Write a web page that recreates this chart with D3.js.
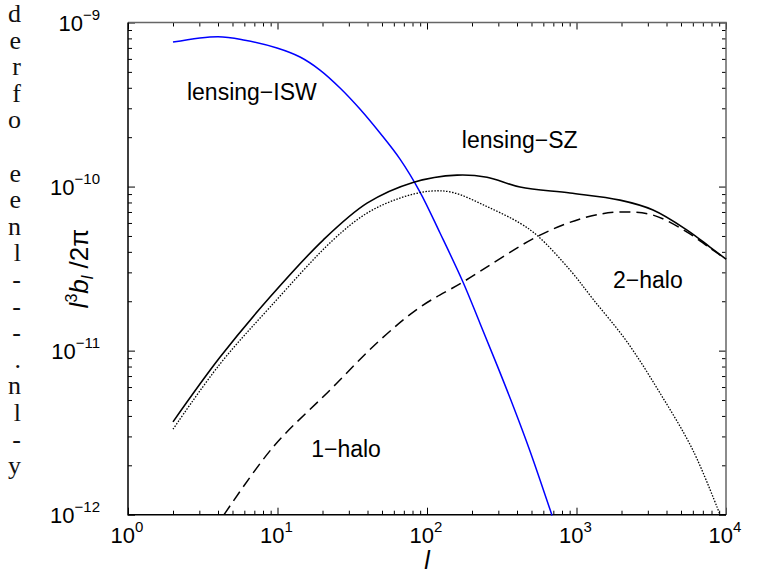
<!DOCTYPE html>
<html>
<head>
<meta charset="utf-8">
<script src="https://cdn.jsdelivr.net/npm/d3@7"></script>
<style>
  body { margin: 0; background: #fff; }
  svg { display: block; }
</style>
</head>
<body>
<script>
const width = 761;
const height = 573;

// tick labels
const xMajor = [1, 10, 100, 1000, 10000];
const xExponents = ["0", "1", "2", "3", "4"];
const yMajor = [1e-12, 1e-11, 1e-10, 1e-9];
const yExponents = ["\u221212", "\u221211", "\u221210", "\u22129"];

// series, [l, l^3 b_l / 2pi]
const lensingISW = [
  [2, 7.6e-10], [4, 8.2e-10], [6.06, 7.8e-10], [9.92, 6.99e-10], [14.15, 6.16e-10],
  [19.24, 5.13e-10], [26.2, 3.99e-10], [35.6, 2.97e-10], [48.5, 2.12e-10], [66, 1.47e-10],
  [89.8, 9.26e-11], [122.2, 5.21e-11], [174, 2.62e-11], [226, 1.47e-11], [294, 8.16e-12],
  [382, 4.46e-12], [489, 2.44e-12], [686, 9.9e-13]
];
const lensingSZ = [
  [2, 3.68e-12], [4.12, 9.1e-12], [8.91, 2.12e-11], [20.2, 4.72e-11], [39.7, 7.92e-11],
  [80.6, 1.06e-10], [159, 1.175e-10], [252, 1.14e-10], [419, 9.93e-11], [905, 9.13e-11],
  [1954, 8.27e-11], [3250, 7.2e-11], [5490, 5.43e-11], [7810, 4.28e-11], [10000, 3.61e-11]
];
const oneHalo = [
  [2, 3.32e-12], [4.12, 8.28e-12], [8.91, 1.84e-11], [23.5, 4.72e-11], [39.7, 6.89e-11],
  [66, 8.51e-11], [105, 9.38e-11], [149, 9.2e-11], [252, 7.55e-11], [419, 5.98e-11],
  [552, 4.99e-11], [905, 3.1e-11], [1290, 2.06e-11], [2180, 1.13e-11], [3620, 5.51e-12],
  [6010, 2.47e-12], [9120, 1.0e-12]
];
const twoHalo = [
  [4.39, 1e-12], [9.33, 2.58e-12], [22.4, 5.74e-12], [48.5, 1.16e-11], [89.8, 1.84e-11],
  [174, 2.62e-11], [570, 5.06e-11], [1175, 6.52e-11], [1954, 7.0e-11], [3250, 6.7e-11],
  [5490, 5.28e-11], [7810, 4.22e-11], [10000, 3.61e-11]
];

const labels = [
  {text: "lensing\u2212ISW", l: 2.48, v: 3.36e-10},
  {text: "lensing\u2212SZ", l: 171, v: 1.72e-10},
  {text: "2\u2212halo", l: 1754, v: 2.40e-11},
  {text: "1\u2212halo", l: 16.8, v: 2.24e-12}
];

// bits of the paper's text cut off at the left edge
const sideLetters = ["d", "e", "r", "f", "o", "", "e", "e", "n", "l", "-", "-", "-", ".", "n", "l", "-", "y"];

const sans = "'Liberation Sans', Arial, Helvetica, sans-serif";

const svg = d3.select("body").append("svg")
  .attr("width", width)
  .attr("height", height);

const x = d3.scaleLog().domain([1, 1e4]).range([128, 726]);
const y = d3.scaleLog().domain([1e-12, 1e-9]).range([514.7, 22.5]);
const [x0, x1] = x.range();
const [y0, y1] = y.range();

svg.append("g")
  .attr("font-family", "'Liberation Serif', 'Times New Roman', serif")
  .attr("font-size", 26)
  .attr("fill", "#111")
  .selectAll("text")
  .data(sideLetters)
  .join("text")
  .attr("x", 21)
  .attr("y", (d, i) => 22 + i * 26.6)
  .attr("text-anchor", "end")
  .text(d => d);

const xMinor = x.ticks().filter(t => !xMajor.includes(t));
const yMinor = y.ticks().filter(t => !yMajor.some(m => Math.abs(m - t) / m < 1e-6));

function tidy(g) {
  g.select(".domain").remove();
  g.selectAll(".tick line").attr("stroke", "#000").attr("stroke-width", 1);
}

// ticks on all four sides, pointing inwards
const axes = [
  [d3.axisBottom(x), `translate(0,${y0})`, xMajor, xMinor],
  [d3.axisTop(x), `translate(0,${y1})`, xMajor, xMinor],
  [d3.axisLeft(y), `translate(${x0},0)`, yMajor, yMinor],
  [d3.axisRight(y), `translate(${x1},0)`, yMajor, yMinor]
];
axes.forEach(([axis, tr, major, minor]) => {
  svg.append("g").attr("transform", tr)
    .call(axis.tickValues(minor).tickSize(-4).tickFormat(""))
    .call(tidy);
  svg.append("g").attr("transform", tr)
    .call(axis.tickValues(major).tickSize(-7).tickFormat(""))
    .call(tidy);
});

// frame
svg.append("path")
  .attr("d", `M${x0},${y1}H${x1}V${y0}`)
  .attr("fill", "none").attr("stroke", "#666").attr("stroke-width", 1.5);
svg.append("path")
  .attr("d", `M${x0},${y1}V${y0}H${x1}`)
  .attr("fill", "none").attr("stroke", "#000").attr("stroke-width", 1.5);

// tick labels
const xt = svg.append("g").attr("font-family", sans).attr("fill", "#000")
  .selectAll("text").data(xMajor).join("text")
  .attr("x", d => x(d) - 1)
  .attr("y", 543)
  .attr("text-anchor", "middle")
  .attr("font-size", 22);
xt.append("tspan").text("10");
xt.append("tspan").attr("dy", -11).attr("font-size", 15).text((d, i) => xExponents[i]);

const yt = svg.append("g").attr("font-family", sans).attr("fill", "#000")
  .selectAll("text").data(yMajor).join("text")
  .attr("x", 100)
  .attr("y", d => y(d) + 8)
  .attr("text-anchor", "end")
  .attr("font-size", 22);
yt.append("tspan").text("10");
yt.append("tspan").attr("dy", -11).attr("font-size", 15).text((d, i) => yExponents[i]);

// axis titles
svg.append("text")
  .attr("x", (x0 + x1) / 2)
  .attr("y", 569)
  .attr("text-anchor", "middle")
  .attr("font-family", sans)
  .attr("font-style", "italic")
  .attr("font-size", 25)
  .text("l");

const yTitle = svg.append("text")
  .attr("transform", `translate(88,${(y0 + y1) / 2}) rotate(-90)`)
  .attr("text-anchor", "middle")
  .attr("font-family", sans)
  .attr("font-size", 26);
yTitle.append("tspan").attr("font-style", "italic").text("l");
yTitle.append("tspan").attr("dy", -11).attr("font-size", 16).text("3");
yTitle.append("tspan").attr("dy", 11).attr("font-style", "italic").text("b");
yTitle.append("tspan").attr("dy", 5).attr("font-size", 16).attr("font-style", "italic").text("l");
yTitle.append("tspan").attr("dy", -5).text(" /2\u03c0");

// curves
const line = d3.line()
  .x(d => x(d[0]))
  .y(d => y(d[1]))
  .curve(d3.curveCatmullRom.alpha(0.5));

const plot = svg.append("g");
plot.append("path").datum(lensingISW)
  .attr("d", line).attr("fill", "none")
  .attr("stroke", "#0000ff").attr("stroke-width", 1.5);
plot.append("path").datum(lensingSZ)
  .attr("d", line).attr("fill", "none")
  .attr("stroke", "#000").attr("stroke-width", 1.6);
plot.append("path").datum(oneHalo)
  .attr("d", line).attr("fill", "none")
  .attr("stroke", "#000").attr("stroke-width", 1.3)
  .attr("stroke-dasharray", "1.5,1.5");
plot.append("path").datum(twoHalo)
  .attr("d", line).attr("fill", "none")
  .attr("stroke", "#000").attr("stroke-width", 1.5)
  .attr("stroke-dasharray", "11,6");

// curve names
svg.append("g")
  .attr("font-family", sans)
  .attr("font-size", 23)
  .selectAll("text").data(labels).join("text")
  .attr("x", d => x(d.l))
  .attr("y", d => y(d.v))
  .text(d => d.text);
</script>
</body>
</html>
